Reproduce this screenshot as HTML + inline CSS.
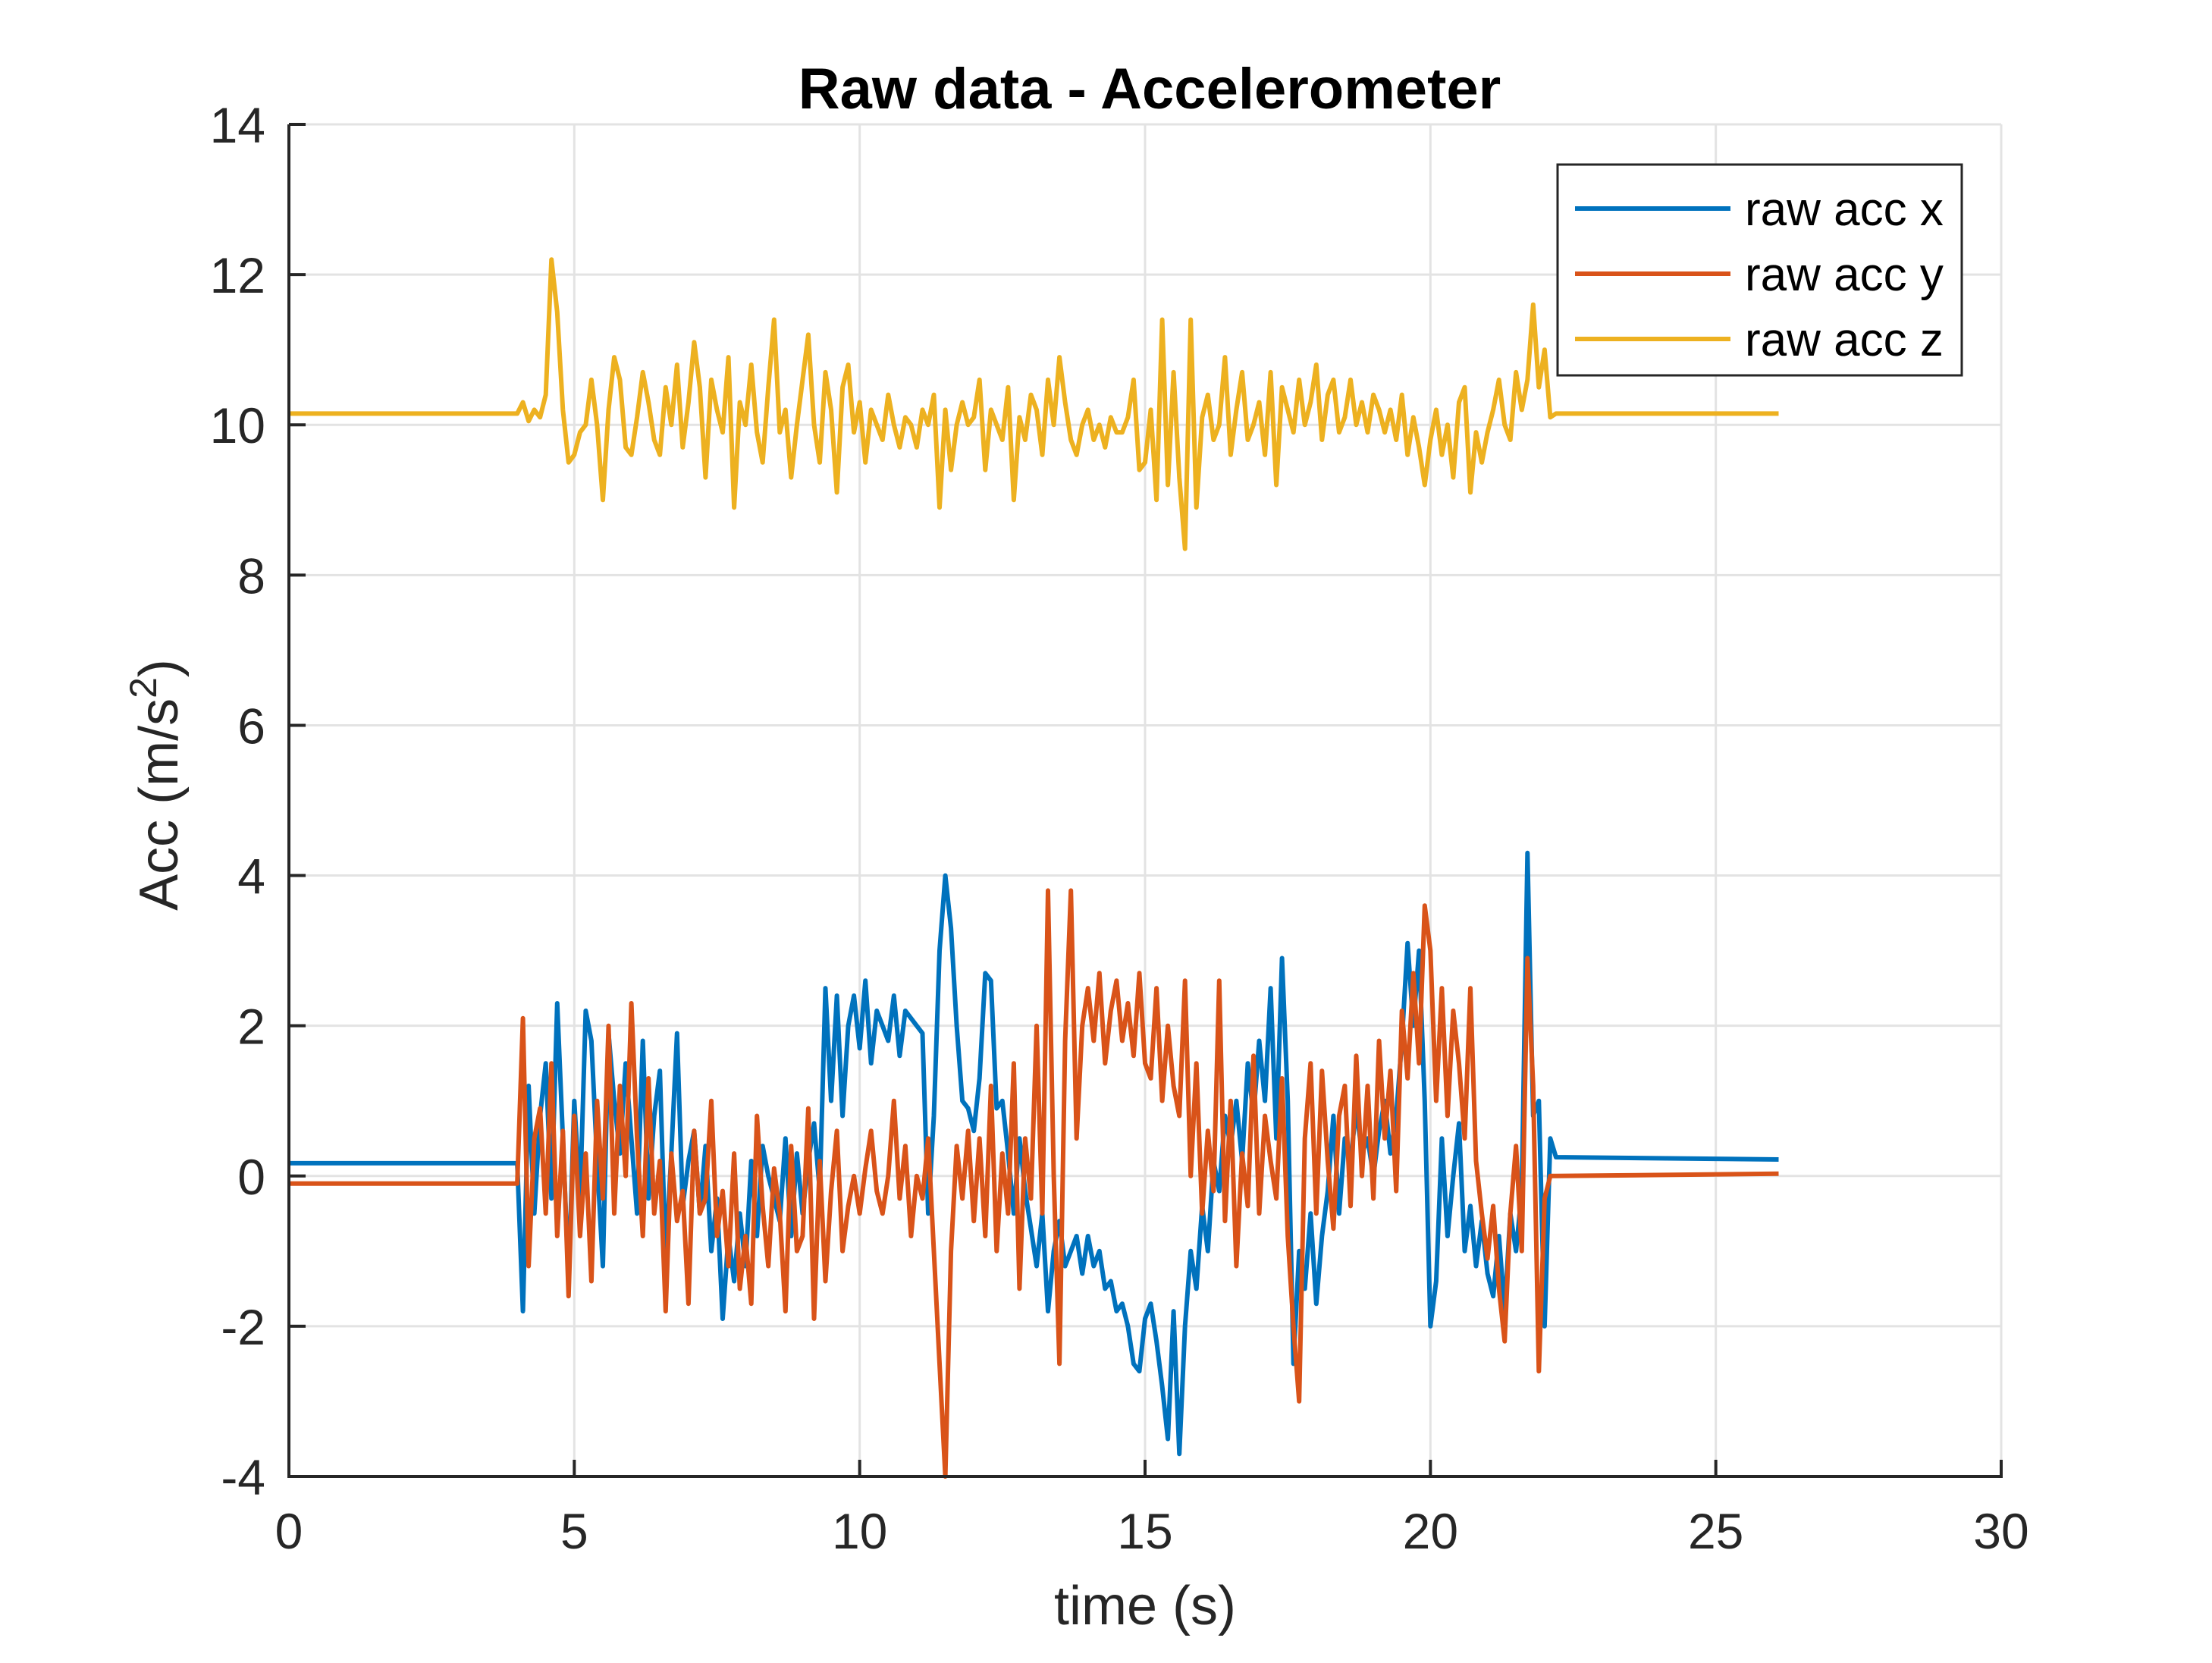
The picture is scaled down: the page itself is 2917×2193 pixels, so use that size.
<!DOCTYPE html>
<html><head><meta charset="utf-8"><style>
body{margin:0;background:#fff;}
svg text{font-family:"Liberation Sans",Arial,sans-serif;fill:#262626;}
</style></head><body>
<svg id="chart" width="2917" height="2188" viewBox="0 0 2917 2188" xmlns="http://www.w3.org/2000/svg">
<rect width="2917" height="2188" fill="#fff"/>
<g id="grid"></g>
<g id="series"></g>
<g id="axes"></g>
<text x="1516" y="143" font-size="76" font-weight="bold" text-anchor="middle" style="fill:#000">Raw data - Accelerometer</text>
<text x="1510" y="2142" font-size="72" text-anchor="middle">time (s)</text>
<text transform="translate(234,1035) rotate(-90)" font-size="72" text-anchor="middle">Acc (m/s<tspan font-size="50" dy="-28">2</tspan><tspan dy="28">)</tspan></text>
<g>
<rect x="2054" y="217" width="533" height="278" fill="#fff" stroke="#262626" stroke-width="3"/>
<line x1="2077" y1="275" x2="2282" y2="275" stroke="#0072BD" stroke-width="6"/>
<text x="2301" y="297" font-size="62" style="fill:#000">raw acc x</text>
<line x1="2077" y1="361" x2="2282" y2="361" stroke="#D95319" stroke-width="6"/>
<text x="2301" y="383" font-size="62" style="fill:#000">raw acc y</text>
<line x1="2077" y1="447" x2="2282" y2="447" stroke="#EDB120" stroke-width="6"/>
<text x="2301" y="469" font-size="62" style="fill:#000">raw acc z</text>
</g>
</svg>
<script>
const xTicks = [0,5,10,15,20,25,30];
const yTicks = [-4,-2,0,2,4,6,8,10,12,14];
const tStart = 4.0;
const tStep = 0.1;
const tEnd = 26.1;
const restX = [0.17, 0.22];
const restY = [-0.1, 0.03];
const restZ = [10.15, 10.15];
const accX = [0.17,-1.8,1.2,-0.5,0.8,1.5,-0.3,2.3,0.5,-1.4,
1.0,-0.3,2.2,1.8,0.2,-1.2,1.9,1.0,0.3,1.5,
0.5,-0.5,1.8,-0.3,0.8,1.4,-1.1,0.3,1.9,-0.4,
0.2,0.6,-0.5,0.4,-1.0,-0.3,-1.9,-0.8,-1.4,-0.5,
-1.2,0.2,-0.8,0.4,0.0,-0.3,-0.6,0.5,-0.8,0.3,
-0.5,0.2,0.7,-0.2,2.5,1.0,2.4,0.8,2.0,2.4,
1.7,2.6,1.5,2.2,2.0,1.8,2.4,1.6,2.2,2.1,
2.0,1.9,-0.5,0.8,3.0,4.0,3.3,2.0,1.0,0.9,
0.6,1.3,2.7,2.6,0.9,1.0,0.3,-0.5,0.5,-0.2,
-0.7,-1.2,-0.5,-1.8,-1.0,-0.6,-1.2,-1.0,-0.8,-1.3,
-0.8,-1.2,-1.0,-1.5,-1.4,-1.8,-1.7,-2.0,-2.5,-2.6,
-1.9,-1.7,-2.2,-2.8,-3.5,-1.8,-3.7,-2.0,-1.0,-1.5,
-0.4,-1.0,0.2,-0.2,0.8,0.4,1.0,0.2,1.5,0.8,
1.8,1.0,2.5,0.5,2.9,1.0,-2.5,-1.0,-1.5,-0.5,
-1.7,-0.8,-0.2,0.8,-0.5,0.5,0.2,0.9,0.3,0.5,
0.0,0.6,1.0,0.3,0.8,1.8,3.1,2.0,3.0,1.0,
-2.0,-1.4,0.5,-0.8,0.0,0.7,-1.0,-0.4,-1.2,-0.6,
-1.3,-1.6,-0.8,-1.8,-0.5,-1.0,-0.2,4.3,0.8,1.0,
-2.0,0.5,0.25];
const accY = [-0.1,2.1,-1.2,0.5,0.9,-0.5,1.5,-0.8,0.6,-1.6,
0.8,-0.8,0.3,-1.4,1.0,-0.3,2.0,-0.5,1.2,0.0,
2.3,0.5,-0.8,1.3,-0.5,0.2,-1.8,0.3,-0.6,-0.2,
-1.7,0.6,-0.5,-0.3,1.0,-0.8,-0.2,-1.2,0.3,-1.5,
-0.8,-1.7,0.8,-0.4,-1.2,0.1,-0.5,-1.8,0.4,-1.0,
-0.8,0.9,-1.9,0.2,-1.4,-0.2,0.6,-1.0,-0.4,0.0,
-0.5,0.1,0.6,-0.2,-0.5,0.0,1.0,-0.3,0.4,-0.8,
0.0,-0.3,0.5,-1.0,-2.5,-4.0,-1.0,0.4,-0.3,0.6,
-0.6,0.5,-0.8,1.2,-1.0,0.3,-0.5,1.5,-1.5,0.5,
-0.3,2.0,-0.5,3.8,0.0,-2.5,1.8,3.8,0.5,2.0,
2.5,1.8,2.7,1.5,2.2,2.6,1.8,2.3,1.6,2.7,
1.5,1.3,2.5,1.0,2.0,1.2,0.8,2.6,0.0,1.5,
-0.5,0.6,-0.2,2.6,-0.6,1.0,-1.2,0.3,-0.4,1.6,
-0.5,0.8,0.2,-0.3,1.3,-0.8,-2.0,-3.0,0.5,1.5,
-0.5,1.4,0.2,-0.7,0.8,1.2,-0.4,1.6,0.0,1.2,
-0.3,1.8,0.5,1.4,-0.2,2.2,1.3,2.7,1.5,3.6,
3.0,1.0,2.5,0.8,2.2,1.5,0.5,2.5,0.2,-0.5,
-1.1,-0.4,-1.5,-2.2,-0.5,0.4,-1.0,2.9,1.2,-2.6,
-0.3,0.0,0.0];
const accZ = [10.15,10.3,10.05,10.2,10.1,10.4,12.2,11.5,10.2,9.5,
9.6,9.9,10.0,10.6,10.0,9.0,10.2,10.9,10.6,9.7,
9.6,10.1,10.7,10.3,9.8,9.6,10.5,10.0,10.8,9.7,
10.3,11.1,10.5,9.3,10.6,10.2,9.9,10.9,8.9,10.3,
10.0,10.8,9.9,9.5,10.5,11.4,9.9,10.2,9.3,10.0,
10.6,11.2,10.0,9.5,10.7,10.2,9.1,10.5,10.8,9.9,
10.3,9.5,10.2,10.0,9.8,10.4,10.0,9.7,10.1,10.0,
9.7,10.2,10.0,10.4,8.9,10.2,9.4,10.0,10.3,10.0,
10.1,10.6,9.4,10.2,10.0,9.8,10.5,9.0,10.1,9.8,
10.4,10.2,9.6,10.6,10.0,10.9,10.3,9.8,9.6,10.0,
10.2,9.8,10.0,9.7,10.1,9.9,9.9,10.1,10.6,9.4,
9.5,10.2,9.0,11.4,9.2,10.7,9.3,8.35,11.4,8.9,
10.1,10.4,9.8,10.0,10.9,9.6,10.2,10.7,9.8,10.0,
10.3,9.6,10.7,9.2,10.5,10.2,9.9,10.6,10.0,10.3,
10.8,9.8,10.4,10.6,9.9,10.1,10.6,10.0,10.3,9.9,
10.4,10.2,9.9,10.2,9.8,10.4,9.6,10.1,9.7,9.2,
9.8,10.2,9.6,10.0,9.3,10.3,10.5,9.1,9.9,9.5,
9.9,10.2,10.6,10.0,9.8,10.7,10.2,10.6,11.6,10.5,
11.0,10.1,10.15];

const L=381,R=2639,T=164,B=1947;
const xMin=0,xMax=30,yMin=-4,yMax=14;
function sx(v){return L+(v-xMin)/(xMax-xMin)*(R-L);}
function sy(v){return B-(v-yMin)/(yMax-yMin)*(B-T);}
const NS="http://www.w3.org/2000/svg";
function mk(tag,attrs,parent){const e=document.createElementNS(NS,tag);for(const k in attrs)e.setAttribute(k,attrs[k]);parent.appendChild(e);return e;}
const grid=document.getElementById('grid'),axes=document.getElementById('axes'),series=document.getElementById('series');
xTicks.forEach(v=>{
  const g=mk('line',{x1:sx(v),x2:sx(v),y1:T,y2:B,stroke:'#e3e3e3','stroke-width':3},grid);
  
  
  const t=mk('line',{x1:sx(v),x2:sx(v),y1:B,y2:B-22,stroke:'#262626','stroke-width':4},axes);
  
  
  const l=mk('text',{x:sx(v),y:2042,'font-size':66,'text-anchor':'middle'},axes);
  l.textContent=v;
  
  
});
yTicks.forEach(v=>{
  const g=mk('line',{x1:L,x2:R,y1:sy(v),y2:sy(v),stroke:'#e3e3e3','stroke-width':3},grid);
  
  
  const t=mk('line',{x1:L,x2:L+22,y1:sy(v),y2:sy(v),stroke:'#262626','stroke-width':4},axes);
  
  
  const l=mk('text',{x:350,y:sy(v)+24,'font-size':66,'text-anchor':'end'},axes);
  l.textContent=v;
  
  
});
const ax=mk('path',{d:`M${L},${T} L${L},${B} L${R},${B} L${R},${B-22}`,fill:'none',stroke:'#262626','stroke-width':4},axes);


function draw(vals,rest,color,name){
  const pts=[[0,rest[0]]];
  vals.forEach((v,i)=>pts.push([tStart+i*tStep,v]));
  pts.push([tEnd,rest[1]]);
  const d=pts.map((p,i)=>(i?'L':'M')+sx(p[0]).toFixed(1)+','+sy(p[1]).toFixed(1)).join(' ');
  const p=mk('path',{d:d,fill:'none',stroke:color,'stroke-width':6,'stroke-linejoin':'round'},series);
  
  
}
draw(accZ,restZ,'#EDB120','line-raw-acc-z');
draw(accX,restX,'#0072BD','line-raw-acc-x');
draw(accY,restY,'#D95319','line-raw-acc-y');
</script>
</body></html>
